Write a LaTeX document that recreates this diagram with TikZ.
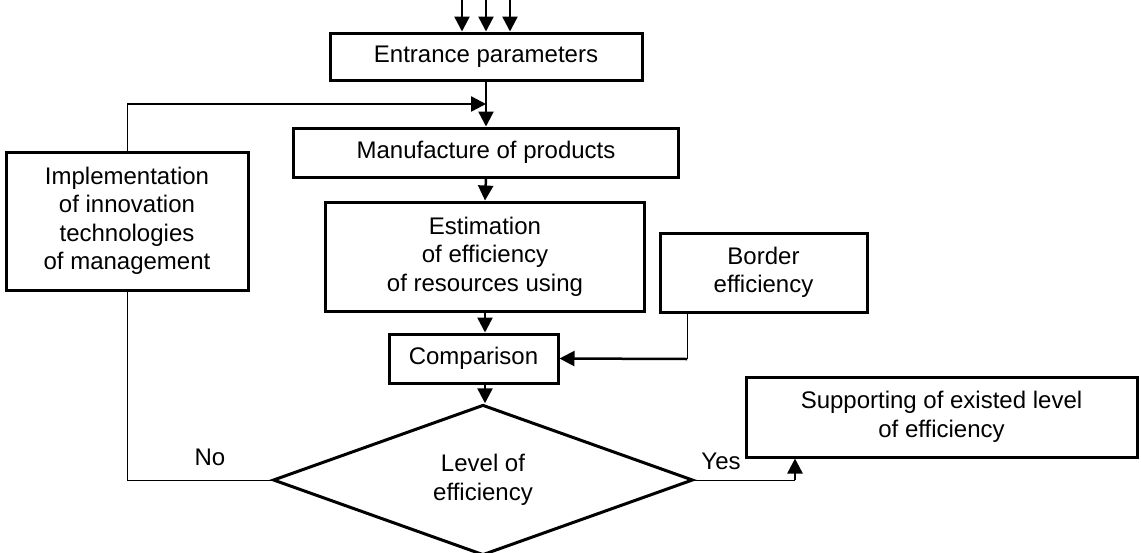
\documentclass[tikz,border=0pt]{standalone}
\usepackage{fontspec}
\setmainfont{Liberation Sans}
\usetikzlibrary{shapes.geometric,arrows.meta}

\begin{document}
\begin{tikzpicture}[x=1pt, y=-1pt, >={Triangle[length=15pt,width=15pt]},
    block/.style={draw, line width=3pt, inner sep=0pt, align=center},
    flow/.style={->, line width=2.5pt},
    thinline/.style={line width=1pt}]
        \tikzstyle{every node}=[font=\fontsize{24}{28.5}\selectfont]
        \useasboundingbox (0,0) rectangle (1141,552);

          \node[block, minimum width=312, minimum height=47] (entr) at (486,56.5) {Entrance parameters};
          \node[block, minimum width=385, minimum height=49] (manuf) at (486,152.5) {Manufacture of products};
          \node[block, minimum width=319, minimum height=109] (estim) at (485,256.5) {Estimation\\of efficiency\\of resources using};
          \node[block, minimum width=169, minimum height=49] (comp) at (473.5,358.5) {Comparison};
          \node[block, minimum width=207, minimum height=79] (border) at (763.5,272.5) {Border\\efficiency};
          \node[block, minimum width=242, minimum height=138] (impl) at (127,221) {Implementation\\of innovation\\technologies\\of management};
          \node[block, minimum width=391, minimum height=80] (supp) at (941.5,417) {Supporting of existed level\\of efficiency};
          \node[block, diamond, minimum width=420, minimum height=142] (level) at (483,480) {Level of\\efficiency};

          \node (no) at (210,457) {No};
          \node (yes) at (721,461) {Yes};

          % entrance arrows
          \foreach \x [count=\i] in {462,486,510} {
            \coordinate (in\i) at (\x,0);
            \draw[flow] (in\i) -- (in\i |- entr.north);
          }

          % main chain
          \path[flow]
            (entr.south) edge (manuf.north)
            (manuf.south) edge (estim.north)
            (estim.south) edge (estim.south |- comp.north)
            (estim.south |- comp.south) edge (estim.south |- level.north);

          % feedback loop
          \coordinate (fb) at (486,104);
          \draw[thinline] (level.west) -- (level.west -| impl.south) -- (impl.south);
          \draw[thinline] (impl.north) -- (impl.north |- fb);
          \draw[flow] (impl.north |- fb) -- (fb);

          % border efficiency
          \coordinate (bd) at (687,359);
          \draw[thinline] (border.south -| bd) -- (bd);
          \draw[flow] (bd) -- (comp.east);

          % yes branch
          \coordinate (ys) at (795,480);
          \draw[thinline] (level.east) -- (ys);
          \draw[flow] (ys) -- (ys |- supp.south);

        \end{tikzpicture}
\end{document}
